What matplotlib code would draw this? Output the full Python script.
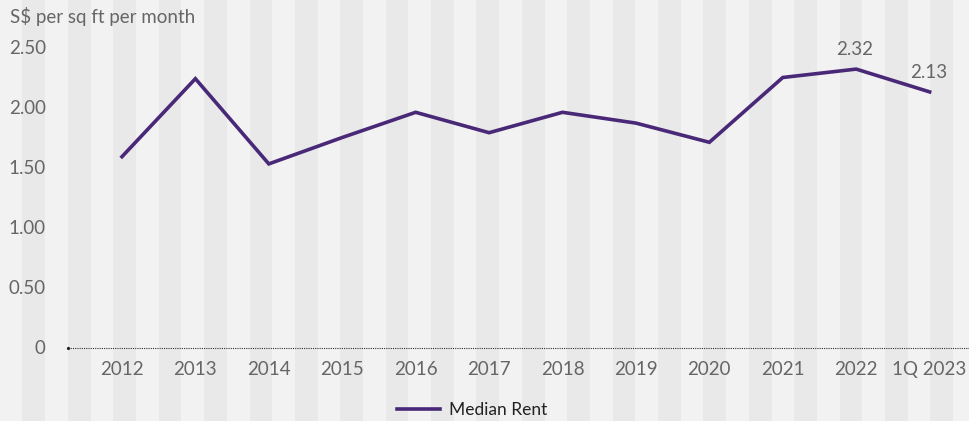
import matplotlib
matplotlib.use("Agg")
import matplotlib.pyplot as plt
from matplotlib.patches import Rectangle

# data
years = ["2012", "2013", "2014", "2015", "2016", "2017", "2018", "2019", "2020", "2021", "2022", "1Q 2023"]
median_rent = [1.59, 2.24, 1.53, 1.75, 1.96, 1.79, 1.96, 1.87, 1.71, 2.25, 2.32, 2.13]
labelled = {10: "2.32", 11: "2.13"}
y_ticks = [0, 0.5, 1.0, 1.5, 2.0, 2.5]
y_tick_labels = ["0", "0.50", "1.00", "1.50", "2.00", "2.50"]

plt.rcParams["font.family"] = ["Lato", "DejaVu Sans"]

W, H = 970, 421
fig = plt.figure(figsize=(W / 100, H / 100), dpi=100)
fig.patch.set_facecolor("#f2f2f2")

# background stripes across the whole figure
period = 45.4
x = 22.5
while x < W:
    fig.add_artist(Rectangle((x / W, 0), (period / 2) / W, 1, transform=fig.transFigure,
                             facecolor="#e9e9e9", edgecolor="none", zorder=0))
    x += period

ax = fig.add_axes([68 / W, (H - 347.5) / H, (W - 68) / W, 300 / H])
ax.set_facecolor("none")

pos = list(range(len(years)))
ax.plot(pos, median_rent, color="#4a2878", linewidth=2.6, label="Median Rent",
        solid_joinstyle="miter", zorder=3)

for i, txt in labelled.items():
    ax.annotate(txt, (pos[i], median_rent[i]), xytext=(-1, 8), textcoords="offset points",
                ha="center", va="bottom", fontsize=13.5, color="#666666")

ax.axhline(0, color="#333333", linewidth=0.8, linestyle=(0, (1, 1)), zorder=2, clip_on=False)
ax.plot([-0.735], [0], marker="o", markersize=1.3, color="#222222", clip_on=False)

ax.set_xlim(-0.735, 11.55)
ax.set_ylim(0, 2.5)
ax.set_xticks(pos)
ax.set_xticklabels(years)
ax.set_yticks(y_ticks)
ax.set_yticklabels(y_tick_labels)
ax.tick_params(axis="both", length=0, labelsize=13.5, labelcolor="#666666")
ax.tick_params(axis="y", pad=16)
ax.tick_params(axis="x", pad=9.5)
for s in ax.spines.values():
    s.set_visible(False)

fig.text(10 / W, 1 - 16 / H, "S$ per sq ft per month", ha="left", va="center",
         fontsize=13.5, color="#666666")

leg = fig.legend(loc="center", bbox_to_anchor=(472 / W, 1 - 410 / H), frameon=False,
                 fontsize=12.5, handlelength=2.5, handletextpad=0.5)
for t in leg.get_texts():
    t.set_color("#222222")

fig.savefig("out.png", dpi=100, facecolor=fig.get_facecolor())
